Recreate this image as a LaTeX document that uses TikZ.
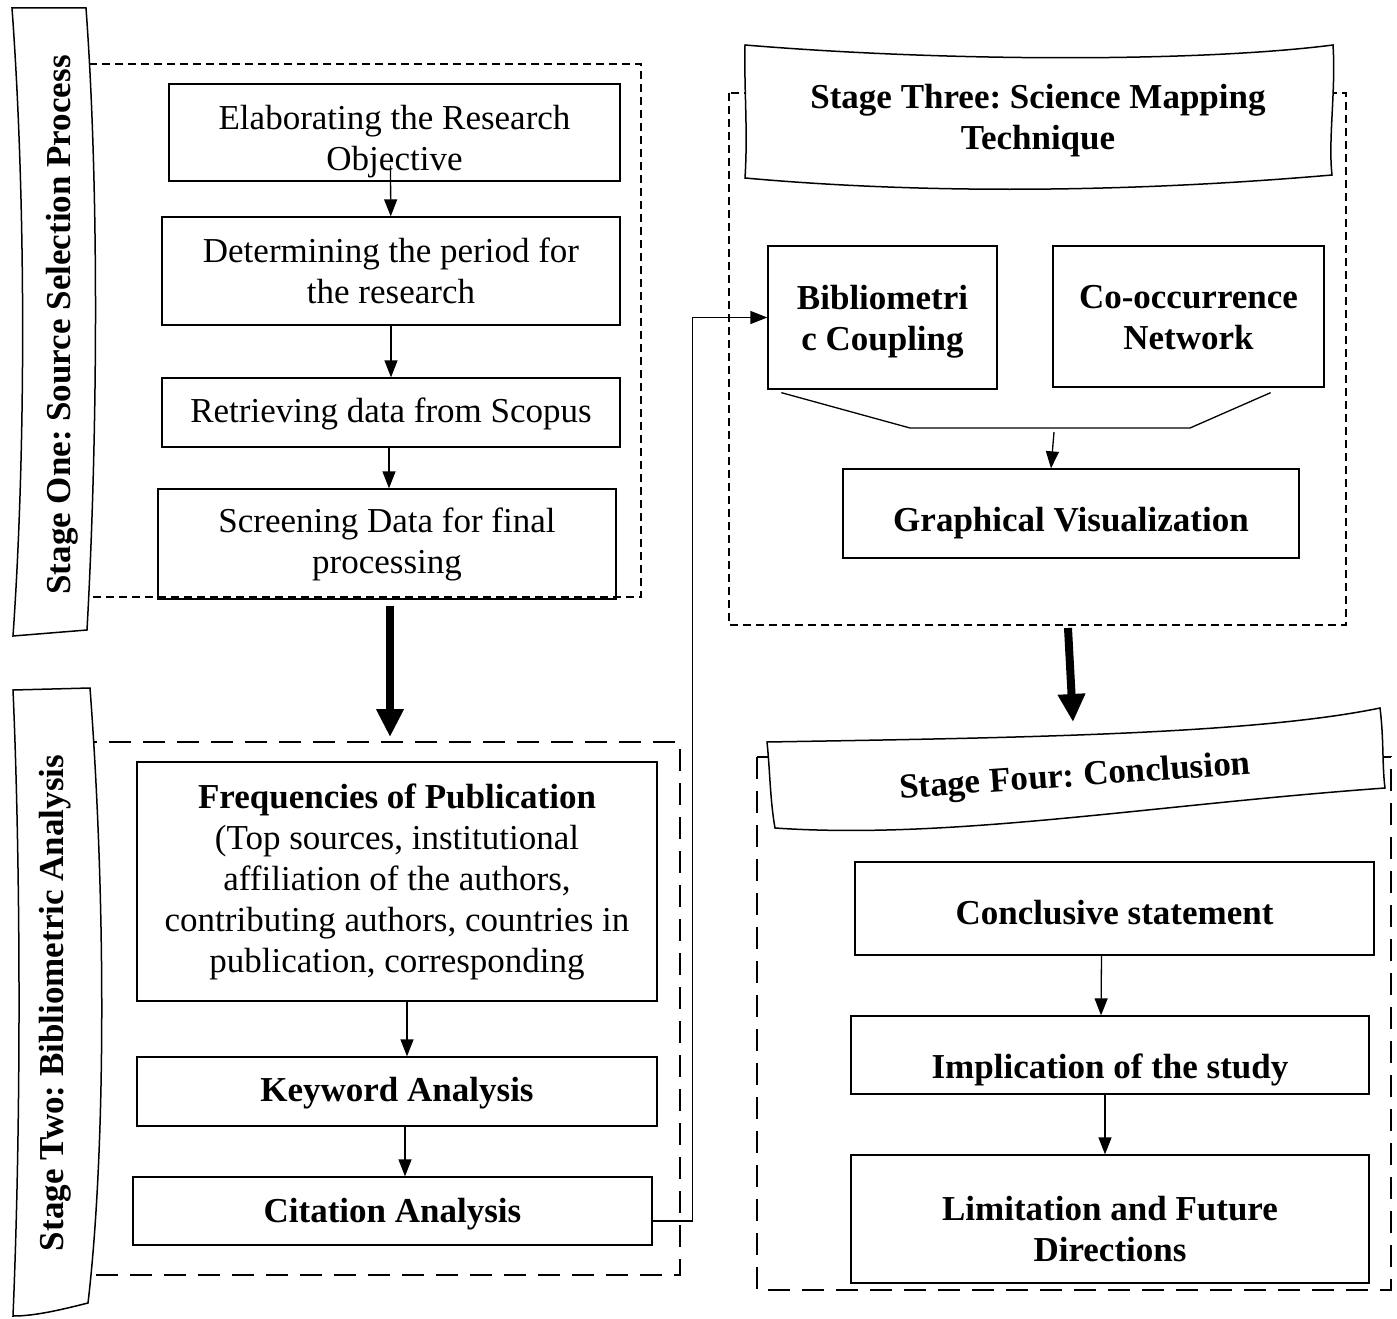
\documentclass[tikz,border=0pt]{standalone}
\usepackage{fontspec}
\setmainfont{Liberation Serif}
\usetikzlibrary{arrows.meta}
\usetikzlibrary{positioning}
\frenchspacing
% zero-width strut that pushes a node's text down
\newcommand\dn[1]{\rule{0pt}{#1pt}}

\begin{document}
\begin{tikzpicture}[x=1pt,y=-1pt]
      \tikzset{
        every node/.style={font=\fontsize{35}{41}\selectfont},
        sz/.style 2 args={minimum width=#1pt, minimum height=#2pt},
        box/.style={draw, line width=1.3pt, align=center, inner sep=0pt},
        bbox/.style={box, font=\fontsize{35}{41}\selectfont\bfseries},
        arr/.style={-{Triangle[width=13pt,length=17pt]}, line width=1.3pt},
        bigarr/.style={-{Triangle[width=26pt,length=28pt]}, line width=8pt},
        shortdash/.style={line width=2pt, dash pattern=on 8pt off 5pt},
        longdash/.style={line width=2pt, dash pattern=on 22pt off 12pt},
        banner/.style={draw, line width=1.5pt, fill=white},
        stage/.style={font=\fontsize{35}{41}\selectfont\bfseries, align=center},
      }
      \useasboundingbox (0,0) rectangle (1397,1319);

      % stage frames
      \draw[shortdash] (80,64) rectangle (641,597);
      \draw[longdash] (85,742) rectangle (680,1275);
      \draw[shortdash] (729,93) rectangle (1346,625);
      \draw[longdash] (757,757) rectangle (1391,1290);

      % banners
      \draw[banner] (12,8) -- (86,8) .. controls (100,200) and (97,450) .. (87,630)
        -- (13,636) .. controls (26,450) and (26,200) .. cycle;
      \draw[banner] (13,690) -- (90,688) .. controls (106,900) and (106,1150) .. (88,1303)
        .. controls (60,1310) and (35,1316) .. (13,1316) .. controls (22,1100) and (20,850) .. cycle;
      \draw[banner] (745,45) .. controls (950,62) and (1200,62) .. (1333,45)
        .. controls (1336,90) and (1328,140) .. (1332,175)
        .. controls (1100,195) and (900,192) .. (745,178) .. controls (748,130) and (744,90) .. cycle;
      \draw[banner] (767,742) .. controls (1000,738) and (1250,735) .. (1380,708)
        .. controls (1384,740) and (1382,765) .. (1385,788)
        .. controls (1150,805) and (950,840) .. (775,828) .. controls (770,800) and (770,770) .. cycle;

      \node[stage, rotate=90] (st1) at (62,325) {Stage One: Source Selection Process};
      \node[stage, rotate=90] (st2) at (55,1003) {Stage Two: Bibliometric Analysis};
      \node[stage] (st3) at (1038,117) {\dn{32}Stage Three: Science Mapping\\Technique};
      \node[stage, rotate=4] (st4) at (1075,778) {Stage Four: Conclusion};

      % stage one
      \node[box, sz={451}{97}] (elab) at (394.5,132.5) {\dn{42}Elaborating the Research\\Objective};
      \node[box, sz={458}{108}] (period) at (391,271) {Determining the period for\\the research};
      \node[box, sz={458}{69}] (retr) at (391,412.5) {\dn{28}Retrieving data from Scopus};
      \node[box, sz={458}{110}] (scr) at (387,544) {Screening Data for final\\processing};

      % stage two
      \node[box, sz={520}{239}] (freq) at (397,881.5) {\textbf{Frequencies of Publication}\\(Top sources, institutional\\affiliation of the authors,\\contributing authors, countries in\\publication, corresponding};
      \node[bbox, sz={520}{69}] (kw) at (397,1091.5) {\dn{28}Keyword Analysis};
      \node[bbox, sz={519}{68}] (cit) at (392.5,1211) {\dn{30}Citation Analysis};

      % stage three
      \node[bbox, sz={229}{143}] (bib) at (882.5,317.5) {\dn{32}Bibliometri\\c Coupling};
      \node[bbox, sz={271}{141}] (cooc) at (1188.5,316.5) {\dn{26}Co-occurrence\\Network};
      \node[bbox, sz={456}{89}] (graph) at (1071,513.5) {\dn{44}Graphical Visualization};
      \coordinate (mL) at (910,428);
      \coordinate (mR) at (1190,428);
      \coordinate (mC) at (1054,432);

      % stage four
      \node[bbox, sz={519}{93}] (concl) at (1114.5,908.5) {\dn{32}Conclusive statement};
      \node[bbox, sz={518}{78}] (impl) at (1110,1055) {\dn{54}Implication of the study};
      \node[bbox, sz={518}{128}] (lim) at (1110,1219) {\dn{44}Limitation and Future\\Directions};

      \coordinate (s2top) at (390,737);
      \coordinate (s3bot) at (1068,628);
      \coordinate (s4top) at (1073,722);

      \draw[arr] ([xshift=-4pt,yshift=16pt]elab.south) -- (period);
      \draw[arr] (period) -- (retr);
      \draw[arr] ([xshift=-2pt]retr.south) -- ([xshift=2pt]scr.north);
      \draw[arr] ([xshift=10pt]freq.south) -- ([xshift=10pt]kw.north);
      \draw[arr] ([xshift=8pt]kw.south) -- ([xshift=12.5pt]cit.north);
      \draw[arr] ([yshift=-10pt]cit.east) -- ++(40,0) |- (bib.west);
      \draw[line width=1.3pt] ([xshift=14pt,yshift=-3pt]bib.south west) -- (mL) -- (mR)
        -- ([xshift=-54pt,yshift=-5pt]cooc.south east);
      \draw[arr] (mC) -- ([xshift=-20pt]graph.north);
      \draw[arr] ([xshift=-13pt]concl.south) -- ([xshift=-9pt]impl.north);
      \draw[arr] ([xshift=-5pt]impl.south) -- ([xshift=-5pt]lim.north);
      \draw[bigarr] ([xshift=3pt,yshift=-6pt]scr.south) -- (s2top);
      \draw[bigarr] (s3bot) -- (s4top);
    \end{tikzpicture}
\end{document}
